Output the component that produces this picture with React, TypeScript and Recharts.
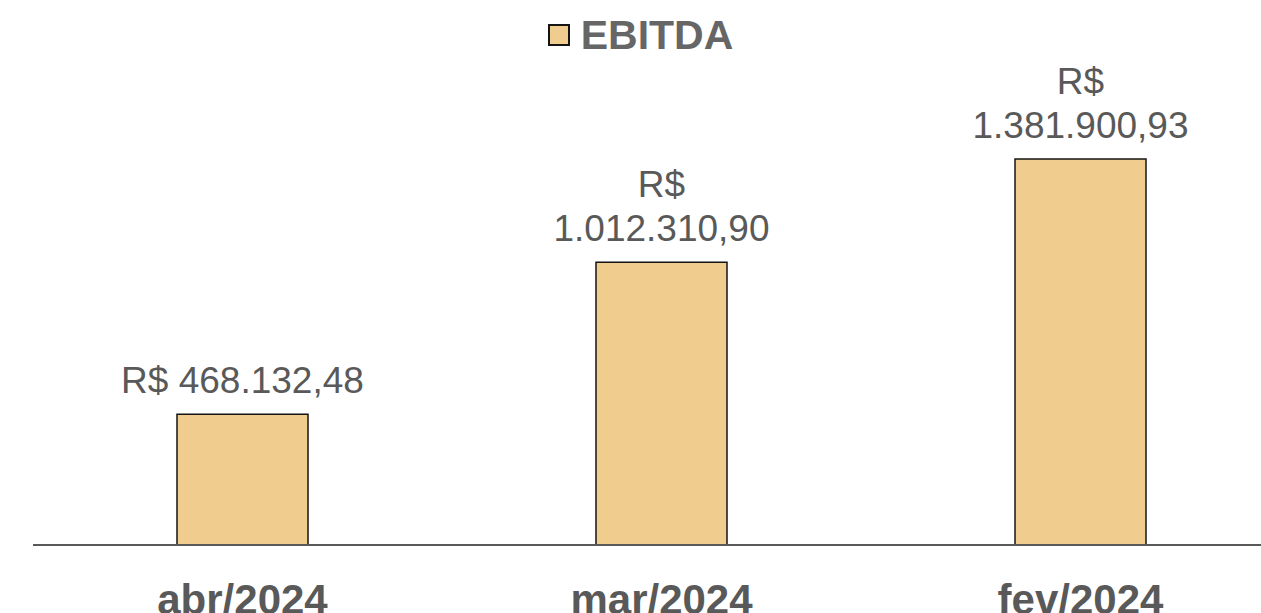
import React from "react";
import { BarChart, Bar, XAxis, YAxis, LabelList } from "recharts";

const categories = ["abr/2024", "mar/2024", "fev/2024"];
const ebitdaValues = [468132.48, 1012310.9, 1381900.93];
const valueLabelLines = [
  ["R$ 468.132,48"],
  ["R$", "1.012.310,90"],
  ["R$", "1.381.900,93"],
];
const seriesName = "EBITDA";

const data = categories.map((c, i) => ({ name: c, value: ebitdaValues[i] }));

const FONT = "'Liberation Sans', Arial, sans-serif";
const BAR_FILL = "#F0CD8F";
const BAR_STROKE = "#141414";
const TEXT = "#595959";

const CustomTick = (props: any) => {
  const { x, y, payload } = props;
  return (
    <text
      x={x}
      y={y}
      dy={61}
      textAnchor="middle"
      fontFamily={FONT}
      fontWeight="bold"
      fontSize={42}
      fill={TEXT}
    >
      {payload.value}
    </text>
  );
};

const ValueLabel = (props: any) => {
  const { x, y, width, index } = props;
  const lines = valueLabelLines[index] || [];
  const cx = Number(x) + Number(width) / 2;
  const lastBase = Number(y) - 21;
  return (
    <g>
      {lines.map((ln: string, i: number) => (
        <text
          key={i}
          x={cx}
          y={lastBase - (lines.length - 1 - i) * 44}
          textAnchor="middle"
          fontFamily={FONT}
          fontSize={37}
          fill={TEXT}
        >
          {ln}
        </text>
      ))}
    </g>
  );
};

export default function App() {
  return (
    <div
      style={{
        position: "fixed",
        left: 0,
        top: 0,
        width: 1261,
        height: 613,
        overflow: "hidden",
        background: "#fff",
      }}
    >
      <div
        style={{
          position: "absolute",
          left: 0,
          top: 0,
          width: 1281,
          display: "flex",
          justifyContent: "center",
          alignItems: "center",
          height: 70,
          fontFamily: FONT,
        }}
      >
        <div
          style={{
            width: 22,
            height: 22,
            background: BAR_FILL,
            border: `2px solid ${BAR_STROKE}`,
            marginRight: 11,
            boxSizing: "border-box",
          }}
        />
        <span style={{ fontWeight: "bold", fontSize: 41, color: "#666666" }}>
          {seriesName}
        </span>
      </div>
      <div style={{ position: "absolute", left: 0, top: 0 }}>
        <BarChart
          width={1300}
          height={613}
          data={data}
          margin={{ top: 98, right: 10, bottom: 0, left: 33 }}
          barCategoryGap={288}
        >
          <XAxis
            dataKey="name"
            height={68}
            tickLine={false}
            axisLine={{ stroke: "#595959", strokeWidth: 2 }}
            tick={<CustomTick />}
            interval={0}
          />
          <YAxis hide domain={[0, 1600000]} width={0} />
          <Bar
            dataKey="value"
            name={seriesName}
            fill={BAR_FILL}
            stroke={BAR_STROKE}
            strokeWidth={1.5}
            barSize={131}
            isAnimationActive={false}
          >
            <LabelList dataKey="value" content={<ValueLabel />} />
          </Bar>
        </BarChart>
      </div>
    </div>
  );
}
